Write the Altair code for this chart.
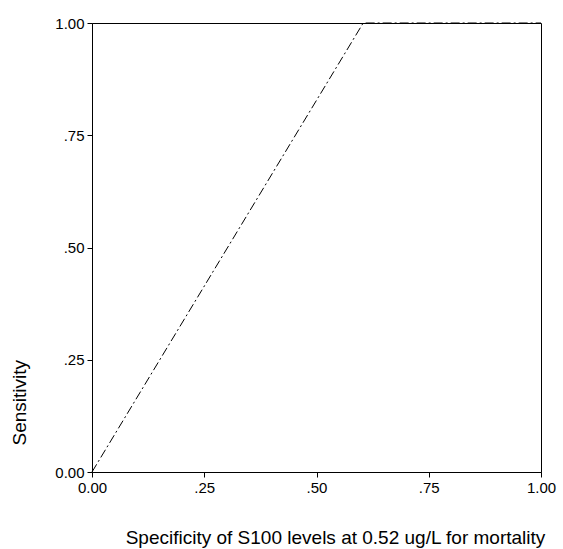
import altair as alt
import pandas as pd

spec = [0.0, 0.604, 1.0]
sens = [0.0, 1.0, 1.0]
x_ticks = [0.0, 0.25, 0.5, 0.75, 1.0]
y_ticks = [0.0, 0.25, 0.5, 0.75, 1.0]

df = pd.DataFrame({"spec": spec, "sens": sens, "order": list(range(len(spec)))})

label_expr = "datum.value == 0 ? '0.00' : datum.value == 1 ? '1.00' : replace(format(datum.value, '.2f'), '0.', '.')"

common = dict(
    grid=False, labelFlush=False, domainColor="black", tickColor="black",
    tickSize=5, labelColor="black", titleColor="black",
    labelFont="Liberation Sans", titleFont="Liberation Sans",
    labelFontSize=15, labelPadding=3, titleFontSize=19, titleFontWeight="normal",
    labelExpr=label_expr,
)

chart = alt.Chart(df).mark_line(
    color="black", strokeWidth=1, strokeDash=[9, 3, 2, 3], clip=False
).encode(
    x=alt.X("spec:Q", scale=alt.Scale(domain=[0, 1], nice=False, zero=False),
            axis=alt.Axis(values=x_ticks,
                          title="Specificity of S100 levels at 0.52 ug/L for mortality",
                          titleX=243, titleY=65, titleBaseline="middle", **common)),
    y=alt.Y("sens:Q", scale=alt.Scale(domain=[0, 1], nice=False, zero=False),
            axis=alt.Axis(values=y_ticks,
                          title="Sensitivity", titleAlign="left", titleAngle=-90,
                          titleX=-73, titleY=422, titleBaseline="middle", **common)),
    order="order:Q",
).properties(
    width=449, height=449,
    background="white",
    autosize=alt.AutoSizeParams(type="none"),
    padding={"left": 92, "top": 23, "right": 22, "bottom": 77},
).configure_view(
    stroke="black", strokeWidth=1
)

chart.save("out.html", embed_options={"renderer": "svg", "actions": False})
